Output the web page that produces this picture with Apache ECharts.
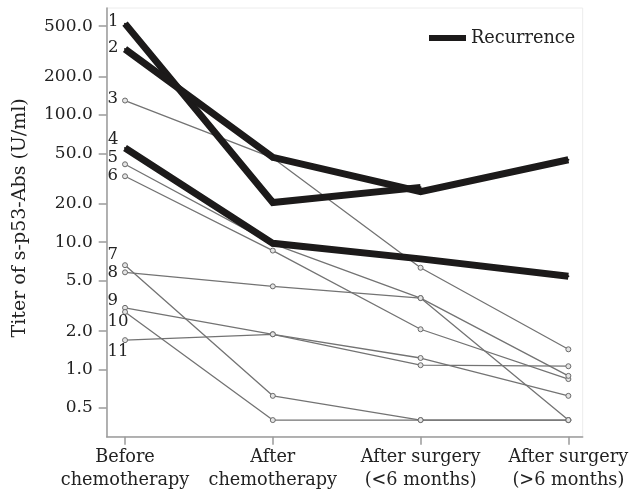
<!DOCTYPE html>
<html>
<head>
<meta charset="utf-8">
<script src="https://cdn.jsdelivr.net/npm/echarts@6/dist/echarts.min.js"></script>
<style>
html,body{margin:0;padding:0;background:#fff;}
#chart{width:629px;height:491px;}
</style>
</head>
<body>
<div id="chart"></div>
<script>
// ---- data ----
const categories = ['Before\nchemotherapy', 'After\nchemotherapy', 'After surgery\n(<6 months)', 'After surgery\n(>6 months)'];
const yTicks = [0.5, 1, 2, 5, 10, 20, 50, 100, 200, 500];
const patientIds = ['1','2','3','4','5','6','7','8','9','10','11'];
const recurrence = ['1','2','4'];
const patient1  = [523, 20.5, 27, null];
const patient2  = [330, 46.5, 25, 44.5];
const patient3  = [130, 46, 6.3, 1.44];
const patient4  = [55, 9.8, 7.4, 5.4];
const patient5  = [41, 9.7, 3.64, 0.40];
const patient6  = [33, 8.6, 2.07, 0.84];
const patient7  = [6.6, 0.62, 0.40, 0.40];
const patient8  = [5.8, 4.5, 3.64, 0.89];
const patient9  = [3.05, 1.89, 1.23, 0.62];
const patient10 = [2.83, 0.40, 0.40, 0.40];
const patient11 = [1.70, 1.89, 1.08, 1.06];
const patients = [patient1, patient2, patient3, patient4, patient5, patient6, patient7, patient8, patient9, patient10, patient11];

// label vertical nudges (style only)
const labelDy = [-2, -1.6, -1, -8, -6, 0, -10, 0.6, -7, 10, 12];

const FONT = 'DejaVu Serif';
const chart = echarts.init(document.getElementById('chart'), null, {renderer: 'canvas'});

const series = patients.map((vals, i) => {
  const id = patientIds[i];
  const isRec = recurrence.includes(id);
  const symSize = isRec ? 2 : 5;
  const data = vals.map((v, j) => {
    const item = {value: [j, v]};
    if (j === 0) {
      item.label = {
        show: true,
        formatter: id,
        position: [symSize / 2 - 17, symSize / 2 + labelDy[i]],
        align: 'left',
        verticalAlign: 'middle',
        fontFamily: FONT,
        fontSize: 16.5,
        color: '#222'
      };
    }
    return item;
  });
  if (isRec) {
    return {
      name: 'Recurrence',
      type: 'line',
      data: data,
      z: 5,
      symbol: 'circle',
      symbolSize: symSize,
      showSymbol: true,
      connectNulls: false,
      lineStyle: {color: '#1c1a1a', width: 7, join: 'miter', cap: 'butt'},
      itemStyle: {color: '#1c1a1a'},
      emphasis: {disabled: true},
      animation: false
    };
  }
  return {
    name: 'Patient ' + id,
    type: 'line',
    data: data,
    z: 3,
    symbol: 'circle',
    symbolSize: symSize,
    showSymbol: true,
    lineStyle: {color: '#737373', width: 1.3},
    itemStyle: {color: '#e4e4e4', borderColor: '#6a6a6a', borderWidth: 1},
    emphasis: {disabled: true},
    animation: false
  };
});

const option = {
  backgroundColor: '#fff',
  animation: false,
  grid: {
    left: 106.7, right: 46.3, top: 8, bottom: 54.3,
    containLabel: false, outerBoundsMode: 'none',
    show: true, borderColor: '#ececec', borderWidth: 1
  },
  legend: {
    data: ['Recurrence'],
    left: 429, top: 28,
    padding: 0,
    icon: 'rect',
    itemWidth: 37, itemHeight: 6,
    itemGap: 8,
    selectedMode: false,
    itemStyle: {color: '#1c1a1a'},
    textStyle: {fontFamily: FONT, fontSize: 17.7, color: '#222', lineHeight: 20}
  },
  xAxis: {
    type: 'value',
    min: -0.124, max: 3.097,
    splitLine: {show: false},
    axisLine: {show: true, onZero: false, lineStyle: {color: '#9a9a9a', width: 1.5}},
    axisTick: {show: true, length: 8, customValues: [0, 1, 2, 3], lineStyle: {color: '#9a9a9a', width: 1.5}},
    axisLabel: {
      customValues: [0, 1, 2, 3],
      formatter: v => categories[Math.round(v)],
      fontFamily: FONT, fontSize: 17.7, color: '#222', lineHeight: 23, margin: 9
    }
  },
  yAxis: {
    type: 'log',
    logBase: 10,
    min: 0.296, max: 694,
    name: 'Titer of s-p53-Abs (U/ml)',
    nameLocation: 'middle',
    nameGap: 77,
    nameTextStyle: {fontFamily: FONT, fontSize: 19, color: '#222', padding: [0, 0, 0, 9]},
    splitLine: {show: false},
    minorTick: {show: false},
    axisLine: {show: true, onZero: false, lineStyle: {color: '#9a9a9a', width: 1.5}},
    axisTick: {show: true, length: 8, customValues: yTicks, lineStyle: {color: '#9a9a9a', width: 1.5}},
    axisLabel: {
      customValues: yTicks,
      formatter: v => Number(v).toFixed(1),
      fontFamily: FONT, fontSize: 17, color: '#222', margin: 14
    }
  },
  series: series
};
chart.setOption(option);
</script>
</body>
</html>
